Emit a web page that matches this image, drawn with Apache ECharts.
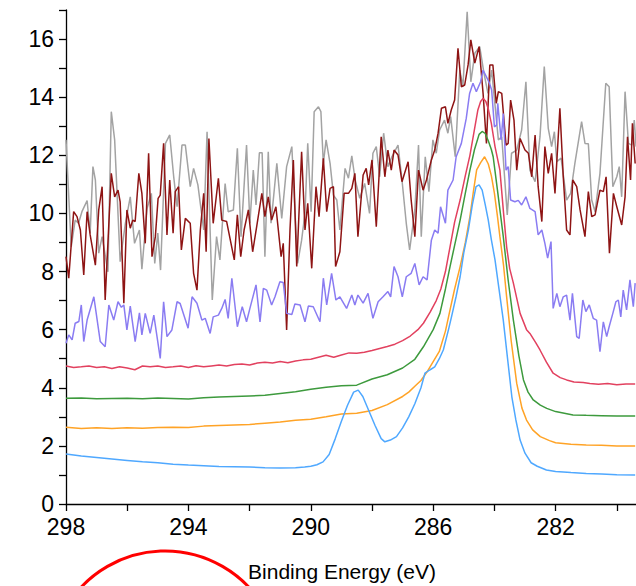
<!DOCTYPE html>
<html>
<head>
<meta charset="utf-8">
<title>C 1s</title>
<script src="https://cdn.jsdelivr.net/npm/echarts@6/dist/echarts.min.js"></script>
<style>
  html, body { margin: 0; padding: 0; background: #fff; }
  #main { width: 636px; height: 586px; }
</style>
</head>
<body>
<div id="main"></div>
<script>
// binding energy (eV), intensity pairs
var grayLine = [
  [298.0,12.53],[297.83,8.85],[297.7,9.77],[297.59,9.66],[297.48,10.06],[297.31,10.44],[297.21,9.32],[297.12,11.61],
  [297.04,11.15],[296.93,8.63],[296.82,9.2],[296.63,7.99],[296.52,13.5],[296.41,12.53],[296.23,8.34],[296.06,9.66],
  [295.9,10.57],[295.76,8.97],[295.6,9.43],[295.52,8.08],[295.35,10.17],[295.21,10.69],[295.1,8.28],[295.0,9.32],
  [294.91,8.05],[294.75,12.41],[294.61,12.7],[294.48,11.26],[294.37,10.23],[294.21,12.35],[294.1,12.35],[293.94,10.92],
  [293.83,11.55],[293.69,10.98],[293.5,9.43],[293.39,12.81],[293.22,7.02],[293.08,9.2],[292.97,8.4],[292.8,11.03],
  [292.7,10.06],[292.53,10.12],[292.4,12.24],[292.28,9.2],[292.1,12.35],[291.99,9.66],[291.88,11.49],[291.79,10.29],
  [291.68,12.09],[291.59,12.09],[291.5,8.51],[291.39,12.12],[291.3,9.66],[291.11,11.72],[290.95,9.83],[290.79,11.61],
  [290.62,12.3],[290.52,10.12],[290.43,8.28],[290.3,9.08],[290.19,10.0],[290.1,12.41],[289.99,10.06],[289.89,13.5],
  [289.75,13.67],[289.67,13.5],[289.59,11.72],[289.5,12.53],[289.37,11.72],[289.26,10.63],[289.15,10.46],[289.05,9.43],
  [288.88,11.55],[288.77,11.21],[288.66,11.98],[288.55,11.15],[288.4,10.52],[288.24,11.03],[288.08,10.0],[287.97,12.07],
  [287.86,12.3],[287.75,11.26],[287.62,12.76],[287.48,11.61],[287.35,11.95],[287.15,12.35],[287.02,11.15],[286.88,9.66],
  [286.77,8.74],[286.6,10.12],[286.48,12.35],[286.39,9.2],[286.26,11.95],[286.14,10.75],[286.01,12.53],[285.9,12.07],
  [285.79,12.87],[285.63,13.21],[285.52,12.76],[285.43,13.33],[285.28,11.95],[285.13,14.93],[285.03,14.36],[284.89,16.94],
  [284.77,14.53],[284.64,15.51],[284.48,15.74],[284.34,14.82],[284.21,14.13],[284.09,14.93],[283.95,13.4],[283.87,12.53],
  [283.76,12.64],[283.58,9.95],[283.44,12.07],[283.27,12.18],[283.11,12.87],[282.97,14.53],[282.84,11.49],[282.67,11.09],
  [282.51,12.64],[282.37,15.05],[282.24,12.93],[282.13,12.3],[282.04,12.81],[281.96,11.78],[281.82,11.9],[281.64,10.46],
  [281.51,10.69],[281.37,11.72],[281.15,13.16],[281.04,12.41],[280.93,12.4],[280.82,10.46],[280.71,10.06],[280.55,11.38],
  [280.36,14.48],[280.25,14.36],[280.13,10.92],[280.0,11.26],[279.92,11.61],[279.84,10.57],[279.73,14.19],[279.62,12.41],
  [279.51,12.35],[279.43,13.21],[279.37,12.3]
];

var darkRedLine = [
  [298.0,8.51],[297.91,7.77],[297.75,10.06],[297.64,9.89],[297.53,9.43],[297.42,7.88],[297.31,10.06],[297.21,9.26],
  [297.04,8.22],[296.93,10.12],[296.82,10.92],[296.72,7.02],[296.52,11.38],[296.41,10.57],[296.3,10.8],[296.23,10.4],
  [296.11,6.91],[296.01,10.12],[295.9,9.49],[295.82,9.77],[295.74,9.72],[295.62,11.38],[295.52,10.69],[295.41,8.97],
  [295.3,12.07],[295.19,8.51],[295.08,9.2],[294.99,10.52],[294.92,10.63],[294.81,12.41],[294.7,9.26],[294.61,11.15],
  [294.5,9.32],[294.43,10.75],[294.32,10.92],[294.23,8.74],[294.1,9.83],[293.94,9.66],[293.83,7.94],[293.72,7.36],
  [293.61,9.43],[293.5,10.69],[293.42,8.68],[293.33,12.58],[293.19,9.66],[293.02,11.21],[292.91,9.77],[292.75,9.72],
  [292.5,8.4],[292.4,9.95],[292.29,8.51],[292.18,9.43],[292.04,10.12],[291.9,8.68],[291.77,9.54],[291.6,10.69],
  [291.5,9.89],[291.39,10.57],[291.28,9.77],[291.14,10.23],[290.97,8.51],[290.9,8.97],[290.79,5.99],[290.68,9.43],
  [290.57,11.84],[290.46,8.17],[290.3,12.12],[290.19,9.43],[290.1,10.35],[289.97,8.11],[289.83,10.92],[289.73,9.89],
  [289.59,11.9],[289.48,10.06],[289.37,10.86],[289.26,10.92],[289.19,8.17],[289.05,8.68],[288.91,10.69],[288.77,10.69],
  [288.66,10.86],[288.56,11.38],[288.46,9.2],[288.29,11.32],[288.19,11.55],[288.11,10.98],[288.0,11.84],[287.86,9.54],
  [287.7,12.64],[287.58,11.26],[287.48,12.18],[287.37,11.49],[287.28,12.18],[287.15,12.01],[287.02,11.09],[286.82,11.78],
  [286.72,10.46],[286.6,9.2],[286.48,11.49],[286.33,10.8],[286.22,11.15],[286.06,11.84],[285.95,12.18],[285.84,12.76],
  [285.73,13.62],[285.6,13.67],[285.52,13.1],[285.41,13.56],[285.3,13.9],[285.19,15.68],[285.08,14.36],[284.97,14.42],
  [284.86,15.11],[284.77,15.97],[284.64,15.17],[284.5,15.74],[284.37,14.13],[284.26,12.41],[284.15,15.11],[284.05,15.11],
  [283.94,13.79],[283.87,14.19],[283.76,14.13],[283.62,12.35],[283.55,12.41],[283.47,13.9],[283.36,13.21],[283.27,11.49],
  [283.16,12.58],[283.0,12.18],[282.89,12.07],[282.78,11.26],[282.67,12.7],[282.57,10.92],[282.45,9.72],[282.35,12.3],
  [282.24,11.38],[282.13,12.07],[282.02,10.69],[281.86,13.62],[281.75,11.26],[281.64,9.43],[281.53,9.26],[281.44,11.15],
  [281.31,10.92],[281.2,10.12],[281.04,9.2],[280.93,10.75],[280.82,9.89],[280.71,9.95],[280.55,10.8],[280.44,10.75],
  [280.35,11.26],[280.24,8.63],[280.11,10.69],[280.0,10.23],[279.84,9.6],[279.73,10.57],[279.65,12.64],[279.55,11.15],
  [279.49,13.1],[279.4,11.72]
];

var purpleLine = [
  [298.0,5.53],[297.91,5.82],[297.8,5.65],[297.7,6.22],[297.58,6.28],[297.5,6.85],[297.42,5.59],[297.31,6.33],
  [297.09,7.13],[296.88,5.59],[296.72,5.41],[296.6,6.85],[296.44,6.33],[296.3,6.96],[296.19,6.77],[296.11,6.85],
  [296.01,5.99],[295.9,6.81],[295.74,5.59],[295.6,6.58],[295.52,5.82],[295.41,6.56],[295.25,5.87],[295.13,6.5],
  [294.92,5.01],[294.81,6.96],[294.7,5.76],[294.54,5.99],[294.37,6.96],[294.27,6.9],[294.01,6.05],[293.88,7.13],
  [293.72,6.91],[293.56,6.33],[293.45,6.39],[293.29,5.87],[293.19,6.44],[293.02,6.5],[292.91,6.73],[292.8,7.04],
  [292.7,6.39],[292.58,7.77],[292.4,6.1],[292.24,6.79],[292.1,6.27],[291.99,6.73],[291.79,7.54],[291.66,6.27],
  [291.55,7.42],[291.44,7.36],[291.28,6.85],[291.17,7.13],[291.01,7.65],[290.9,7.62],[290.79,6.56],[290.62,6.52],
  [290.52,6.88],[290.35,6.85],[290.19,6.27],[290.08,6.81],[289.92,6.79],[289.7,6.27],[289.59,7.77],[289.48,6.85],
  [289.32,7.94],[289.18,7.02],[289.05,7.13],[288.83,6.73],[288.66,7.19],[288.56,6.85],[288.46,7.19],[288.29,6.91],
  [288.13,7.25],[287.97,6.39],[287.8,6.96],[287.64,7.13],[287.48,7.31],[287.39,7.13],[287.28,8.17],[287.15,7.82],
  [287.01,7.13],[286.88,7.82],[286.72,7.94],[286.6,8.28],[286.46,7.54],[286.33,7.82],[286.2,7.71],[286.06,9.08],
  [285.95,9.43],[285.84,9.32],[285.76,10.23],[285.6,9.66],[285.52,10.8],[285.35,11.15],[285.25,11.95],[285.08,12.41],
  [284.92,13.27],[284.81,14.13],[284.7,14.48],[284.59,14.19],[284.45,14.53],[284.37,14.93],[284.26,14.7],[284.16,14.48],
  [284.09,14.25],[284.0,12.98],[283.93,13.04],[283.89,13.79],[283.78,12.53],[283.71,13.44],[283.62,11.49],[283.55,11.61],
  [283.47,10.46],[283.33,10.4],[283.22,10.45],[283.11,10.29],[282.97,10.57],[282.84,10.17],[282.67,10.06],[282.57,9.26],
  [282.45,9.43],[282.35,8.97],[282.26,8.46],[282.15,9.03],[282.08,6.73],[281.96,7.25],[281.86,6.79],[281.75,7.13],
  [281.64,7.19],[281.53,6.33],[281.45,7.25],[281.31,5.76],[281.23,5.7],[281.11,7.02],[281.01,6.62],[280.9,6.85],
  [280.77,6.39],[280.66,6.33],[280.55,5.24],[280.44,6.27],[280.33,5.76],[280.25,6.1],[280.13,6.56],[280.03,6.96],
  [279.95,7.02],[279.87,6.44],[279.79,7.36],[279.68,6.68],[279.57,7.71],[279.46,6.79],[279.4,7.6]
];

var redLine = [
  [298.0,4.75],[297.75,4.7],[297.5,4.72],[297.25,4.75],[297.0,4.7],[296.75,4.72],[296.5,4.66],[296.25,4.72],
  [296.0,4.68],[295.75,4.62],[295.5,4.75],[295.25,4.72],[295.0,4.75],[294.75,4.7],[294.5,4.72],[294.25,4.75],
  [294.0,4.7],[293.75,4.76],[293.5,4.72],[293.25,4.75],[293.0,4.78],[292.75,4.75],[292.5,4.8],[292.25,4.82],
  [292.0,4.78],[291.75,4.85],[291.5,4.88],[291.25,4.85],[291.0,4.9],[290.75,4.86],[290.5,4.92],[290.25,4.96],
  [290.0,4.98],[289.75,5.05],[289.5,5.12],[289.25,5.05],[289.0,5.13],[288.75,5.2],[288.5,5.19],[288.25,5.22],
  [288.0,5.28],[287.75,5.35],[287.5,5.42],[287.25,5.5],[287.0,5.62],[286.75,5.78],[286.5,6.0],[286.32,6.22],
  [286.1,6.6],[285.9,7.0],[285.75,7.4],[285.6,8.0],[285.45,8.85],[285.3,9.7],[285.12,10.46],[284.95,11.3],
  [284.8,12.0],[284.65,12.9],[284.54,13.56],[284.45,13.85],[284.37,13.96],[284.28,13.85],[284.2,13.6],[284.1,13.1],
  [283.98,12.3],[283.82,11.49],[283.7,10.0],[283.6,8.85],[283.5,8.1],[283.38,7.6],[283.16,6.56],[282.95,6.0],
  [282.84,5.87],[282.65,5.55],[282.51,5.3],[282.3,4.88],[282.08,4.5],[281.85,4.35],[281.64,4.27],[281.4,4.2],
  [281.1,4.18],[280.88,4.15],[280.6,4.12],[280.3,4.15],[280.0,4.1],[279.7,4.13],[279.4,4.13]
];

var greenLine = [
  [298.0,3.64],[297.5,3.65],[297.0,3.62],[296.5,3.63],[296.0,3.64],[295.5,3.62],[295.0,3.65],[294.5,3.63],
  [294.0,3.61],[293.5,3.66],[293.0,3.68],[292.5,3.7],[292.0,3.72],[291.5,3.74],[291.0,3.8],[290.5,3.86],
  [290.0,3.95],[289.5,4.02],[289.0,4.07],[288.5,4.09],[288.0,4.3],[287.5,4.45],[287.0,4.68],[286.6,4.98],
  [286.32,5.41],[286.0,6.0],[285.78,6.56],[285.6,7.4],[285.45,8.17],[285.3,8.9],[285.12,9.77],[284.95,10.7],
  [284.8,11.49],[284.65,12.2],[284.5,12.72],[284.4,12.82],[284.3,12.75],[284.2,12.5],[284.1,12.2],[284.04,11.95],
  [283.9,10.8],[283.71,9.2],[283.55,7.7],[283.38,6.33],[283.2,5.1],[283.05,4.27],[282.9,3.85],[282.73,3.58],
  [282.5,3.4],[282.29,3.29],[282.0,3.18],[281.43,3.06],[281.0,3.05],[280.5,3.04],[280.0,3.03],[279.4,3.03]
];

var orangeLine = [
  [298.0,2.64],[297.5,2.6],[297.0,2.62],[296.5,2.6],[296.0,2.62],[295.5,2.61],[295.0,2.63],[294.5,2.64],
  [294.0,2.63],[293.5,2.68],[293.0,2.7],[292.5,2.72],[292.0,2.74],[291.5,2.78],[291.0,2.82],[290.5,2.88],
  [290.0,2.92],[289.5,3.0],[289.0,3.1],[288.5,3.12],[288.0,3.22],[287.5,3.42],[287.0,3.7],[286.8,3.85],
  [286.6,4.05],[286.4,4.25],[286.2,4.55],[286.0,4.9],[285.8,5.25],[285.6,5.95],[285.45,6.68],[285.3,7.4],
  [285.12,8.17],[284.95,9.0],[284.8,9.89],[284.68,10.8],[284.58,11.5],[284.45,11.75],[284.32,11.95],[284.2,11.7],
  [284.1,11.3],[284.0,10.7],[283.9,9.9],[283.82,9.2],[283.7,8.2],[283.6,7.13],[283.45,5.6],[283.27,4.15],
  [283.1,3.3],[282.95,2.89],[282.75,2.55],[282.5,2.32],[282.2,2.18],[282.0,2.11],[281.5,2.06],[281.0,2.03],
  [280.5,2.02],[280.0,2.0],[279.4,2.0]
];

var blueLine = [
  [298.0,1.72],[297.5,1.65],[297.0,1.6],[296.5,1.55],[296.0,1.5],[295.5,1.45],[295.0,1.42],[294.5,1.37],
  [294.0,1.34],[293.5,1.32],[293.0,1.29],[292.5,1.28],[292.0,1.27],[291.5,1.25],[291.0,1.24],[290.5,1.25],
  [290.2,1.27],[290.0,1.3],[289.8,1.35],[289.6,1.45],[289.4,1.7],[289.2,2.25],[289.0,2.85],[288.8,3.4],
  [288.6,3.85],[288.45,3.92],[288.3,3.7],[288.1,3.2],[287.9,2.7],[287.7,2.25],[287.58,2.14],[287.4,2.2],
  [287.2,2.32],[287.0,2.62],[286.8,3.0],[286.6,3.45],[286.4,4.0],[286.27,4.5],[286.1,4.62],[285.95,4.72],
  [285.8,5.0],[285.67,5.3],[285.5,6.0],[285.4,6.45],[285.25,7.15],[285.12,7.82],[285.0,8.65],[284.85,9.43],
  [284.72,10.3],[284.6,10.92],[284.5,10.98],[284.4,10.8],[284.3,10.3],[284.2,9.77],[284.1,9.1],[283.98,8.4],
  [283.85,7.4],[283.71,6.33],[283.57,5.0],[283.43,3.69],[283.3,2.9],[283.16,2.2],[283.0,1.75],[282.8,1.42],
  [282.6,1.3],[282.3,1.17],[282.0,1.12],[281.5,1.08],[281.0,1.05],[280.5,1.03],[280.0,1.01],[279.4,1.0]
];

var lineColors = ['#a3a3a3', '#8e1414', '#8a7cf2', '#e2415f', '#3d9a3d', '#ffa326', '#4fa8ff'];

var chart = echarts.init(document.getElementById('main'), null, { renderer: 'svg' });

function mkLine(data, color) {
  return {
    type: 'line',
    data: data,
    symbol: 'none',
    lineStyle: { color: color, width: 1.5 },
    emphasis: { disabled: true }
  };
}

var option = {
  animation: false,
  backgroundColor: '#fff',
  grid: {
    left: 66,
    top: 10,
    bottom: 82,
    right: -42,   // axis runs on past the window edge, down to 278
    outerBoundsMode: 'none'
  },
  xAxis: {
    type: 'value',
    min: 278,
    max: 298,
    interval: 2,
    inverse: true,
    axisLine: { show: true, onZero: false, lineStyle: { color: '#000', width: 1.3 } },
    axisTick: { show: true, length: 7, lineStyle: { color: '#000', width: 1.3 } },
    axisLabel: {
      color: '#000',
      fontSize: 23,
      fontFamily: '"Liberation Sans", Arial, sans-serif',
      margin: 11,
      // labels every 4 eV, none for the off-screen 278
      formatter: function (v) { return (v % 4 === 2 && v > 280) ? String(v) : ''; }
    },
    splitLine: { show: false }
  },
  yAxis: {
    type: 'value',
    min: 0,
    max: 17,
    interval: 1,
    axisLine: { show: true, lineStyle: { color: '#000', width: 1.3 } },
    axisTick: { show: true, length: 7, lineStyle: { color: '#000', width: 1.3 } },
    axisLabel: {
      color: '#000',
      fontSize: 23,
      fontFamily: '"Liberation Sans", Arial, sans-serif',
      margin: 12,
      formatter: function (v) { return v % 2 === 0 ? String(v) : ''; }
    },
    splitLine: { show: false }
  },
  series: [
    mkLine(grayLine, lineColors[0]),
    mkLine(darkRedLine, lineColors[1]),
    mkLine(purpleLine, lineColors[2]),
    mkLine(redLine, lineColors[3]),
    mkLine(greenLine, lineColors[4]),
    mkLine(orangeLine, lineColors[5]),
    mkLine(blueLine, lineColors[6])
  ],
  graphic: [
    {
      type: 'text',
      x: 342,
      y: 571,
      style: {
        text: 'Binding Energy (eV)',
        fill: '#000',
        fontSize: 21,
        fontFamily: '"Liberation Sans", Arial, sans-serif',
        align: 'center',
        verticalAlign: 'middle'
      }
    },
    {
      // red ring drawn on the figure, mostly below the frame
      type: 'circle',
      shape: { cx: 165, cy: 666, r: 115 },
      style: { fill: 'none', stroke: '#ff0000', lineWidth: 3 }
    }
  ]
};

chart.setOption(option);
</script>
</body>
</html>
